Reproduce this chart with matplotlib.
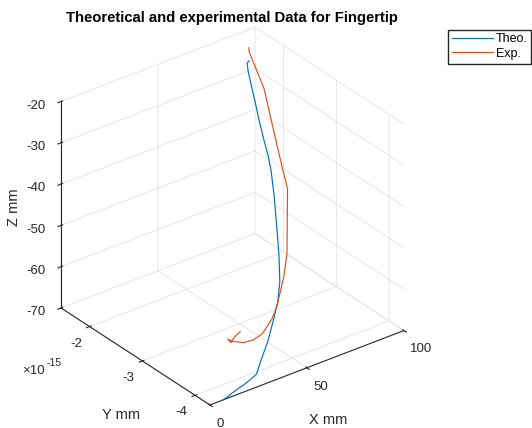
import matplotlib
matplotlib.use('Agg')
import matplotlib.pyplot as plt
from matplotlib.ticker import FuncFormatter

plt.rcParams['font.family'] = ['Liberation Sans', 'DejaVu Sans']
plt.rcParams['axes.unicode_minus'] = False
plt.rcParams['grid.color'] = '#e3e3e3'
plt.rcParams['grid.linewidth'] = 0.6

# fingertip path, theoretical model (mm; y is round-off noise)
theo_x = [94.2, 92.9, 91.3, 89.6, 87.5, 85.3, 82.9, 81.0, 78.9, 74.5, 68.3, 63.1,
          57.8, 52.4, 46.8, 39.0, 32.6, 27.0, 22.7, 19.6, 16.8, 12.6, 8.9, 6.3]
theo_y = [-1.56e-15, -1.57e-15, -1.65e-15, -1.77e-15, -1.92e-15, -2.07e-15,
          -2.25e-15, -2.41e-15, -2.54e-15, -2.76e-15, -3.04e-15, -3.27e-15,
          -3.48e-15, -3.64e-15, -3.77e-15, -3.94e-15, -4.06e-15, -4.17e-15,
          -4.20e-15, -4.22e-15, -4.23e-15, -4.25e-15, -4.27e-15, -4.28e-15]
theo_z = [-26.3, -26.5, -27.7, -29.6, -32.0, -34.5, -37.4, -40.0, -42.1, -45.6,
          -50.1, -53.8, -57.2, -59.7, -61.8, -64.6, -66.5, -68.3, -68.75, -69.0,
          -69.2, -69.5, -69.9, -70.0]

# fingertip path, measured
exp_x = [96.5, 96.2, 94.3, 89.5, 84.8, 81.9, 67.2, 60.7, 50.8, 45.7, 38.3, 33.0,
         28.3, 24.2, 22.5, 23.1, 26.2, 29.5]
exp_y = [-1.47e-15, -1.49e-15, -1.84e-15, -2.18e-15, -2.52e-15, -2.74e-15,
         -3.27e-15, -3.45e-15, -3.68e-15, -3.77e-15, -3.86e-15, -3.88e-15,
         -3.87e-15, -3.83e-15, -3.79e-15, -3.83e-15, -3.79e-15, -3.77e-15]
exp_z = [-24.3, -25.1, -30.7, -36.2, -41.7, -45.2, -53.8, -56.7, -60.4, -61.8,
         -63.2, -63.6, -63.4, -62.7, -62.2, -62.8, -62.2, -61.8]

x_ticks = [0, 50, 100]
y_ticks = [-4e-15, -3e-15, -2e-15]
z_ticks = [-70, -60, -50, -40, -30, -20]

dark = '#262626'

fig = plt.figure(figsize=(5.32, 4.28), dpi=100)
ax = fig.add_axes([0.0434, 0.006, 0.7665, 0.9528], projection='3d')
ax.set_proj_type('ortho')
ax.view_init(elev=30, azim=-127.5)
ax.set_box_aspect((1, 1, 0.975))

ax.plot(theo_x, theo_y, theo_z, color='#0072BD', lw=0.85, label='Theo.')
ax.plot(exp_x, exp_y, exp_z, color='#D95319', lw=0.85, label='Exp.')

ax.set_xlim(0, 100)
ax.set_ylim(-4.28e-15, -1.46e-15)
ax.set_zlim(-70, -20)
ax.set_xticks(x_ticks)
ax.set_yticks(y_ticks)
ax.set_zticks(z_ticks)
ax.yaxis.set_major_formatter(FuncFormatter(lambda v, p: '%d' % round(v / 1e-15)))

for axis in (ax.xaxis, ax.yaxis, ax.zaxis):
    axis.set_pane_color((1, 1, 1, 0))
    axis.pane.set_edgecolor('#e3e3e3')
    axis.line.set_color(dark)
    axis.line.set_linewidth(0.8)
ax.tick_params(colors=dark, labelsize=9.5)
ax.tick_params(axis='x', pad=-1.5)
ax.tick_params(axis='y', pad=-2)
ax.tick_params(axis='z', pad=3)
for lbl in ax.get_xticklabels():
    lbl.set_ha('left')
for lbl in ax.get_yticklabels():
    lbl.set_ha('right')

# axis titles placed on the figure
fig.text(328 / 532, 1 - 420 / 428, 'X mm', ha='center', va='center',
         fontsize=10.5, color=dark)
fig.text(121 / 532, 1 - 415 / 428, 'Y mm', ha='center', va='center',
         fontsize=10.5, color=dark)
fig.text(14 / 532, 1 - 207 / 428, 'Z mm', ha='center', va='center',
         rotation=90, fontsize=10.5, color=dark)

fig.text(232 / 532, 1 - 18 / 428, 'Theoretical and experimental Data for Fingertip',
         ha='center', va='center', fontsize=10.7, fontweight='bold', color='black')
fig.text(22 / 532, 1 - 374 / 428, '×10', ha='left', va='baseline',
         fontsize=9.5, color=dark)
fig.text(47 / 532, 1 - 366 / 428, '-15', ha='left', va='baseline',
         fontsize=7.5, color=dark)

fig.legend(loc='upper right', bbox_to_anchor=(0.999, 0.931), fontsize=9,
           frameon=True, fancybox=False, edgecolor=dark, framealpha=1,
           borderpad=0.3, handlelength=3.3, handletextpad=0.25, labelspacing=0.2,
           borderaxespad=0)

fig.savefig('out.png', dpi=100)
